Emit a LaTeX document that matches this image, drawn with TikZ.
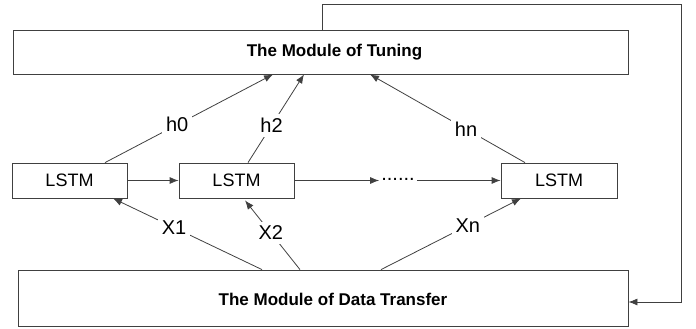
\documentclass[tikz,border=0pt]{standalone}
\usepackage{fontspec}
\setmainfont{Liberation Sans}
\usetikzlibrary{arrows.meta}

\begin{document}
\begin{tikzpicture}[x=1pt, y=-1pt,
    box/.style={rectangle, draw=black!75, line width=0.8pt, inner sep=0pt},
    cell/.style={box, minimum width=115pt, minimum height=35pt, font=\fontsize{18}{20}\selectfont},
    link/.style={draw=black!75, line width=0.8pt, -{Latex[length=9pt, width=7pt]}},
    lbl/.style={fill=white, inner sep=4pt, font=\fontsize{20}{22}\selectfont}]
    \useasboundingbox (0,0) rectangle (696,329);
        % Modules
    \node (tune) [box, minimum width=615pt, minimum height=44pt,
        label={[xshift=14pt, font=\fontsize{17}{19}\selectfont\bfseries]center:The Module of Tuning}] at (320.5,52) {};
    \node (data) [box, minimum width=610pt, minimum height=56pt,
        label={[xshift=10pt, yshift=-1pt, font=\fontsize{17}{19}\selectfont\bfseries]center:The Module of Data Transfer}] at (323,298) {};
        % LSTM cells
    \node (lstmA) [cell] at (69.5,180.5) {LSTM};
    \node (lstmB) [cell] at (236.5,180.5) {LSTM};
    \node (dots) [font=\fontsize{20}{22}\selectfont, inner sep=2pt] at (398,179) {......};
    \node (lstmC) [cell, minimum width=116pt] at (559,180.5) {LSTM};
    \coordinate (fb) at (681,4);

    % Arrows
    \draw[link] (lstmA) -- (lstmB);
    \draw[link] (lstmB.east) -- (lstmB.east -| dots.west);
    \draw[link] (lstmC.west -| dots.east) -- (lstmC.west);
    \draw[link] ([xshift=35.5pt]lstmA.north) -- node[lbl, pos=0.43] {h0} ([xshift=-47.5pt]tune.south);
    \draw[link] ([xshift=11.5pt]lstmB.north) -- node[lbl, pos=0.42] {h2} ([xshift=-16.5pt]tune.south);
    \draw[link] ([xshift=-34pt]lstmC.north) -- node[lbl, pos=0.38] {hn} ([xshift=49.5pt]tune.south);
    \draw[link] ([xshift=-61pt]data.north) -- node[lbl, pos=0.59] {X1} ([xshift=43.5pt]lstmA.south);
    \draw[link] ([xshift=-23pt]data.north) -- node[lbl, pos=0.53] {X2} ([xshift=8.5pt, yshift=-2pt]lstmB.south);
    \draw[link] ([xshift=58pt]data.north) -- node[lbl, pos=0.62] {Xn} ([xshift=-38pt]lstmC.south);
    \draw[link] ([xshift=1.5pt]tune.north) |- (fb) |- ([yshift=-4pt]data.east);
\end{tikzpicture}
\end{document}
